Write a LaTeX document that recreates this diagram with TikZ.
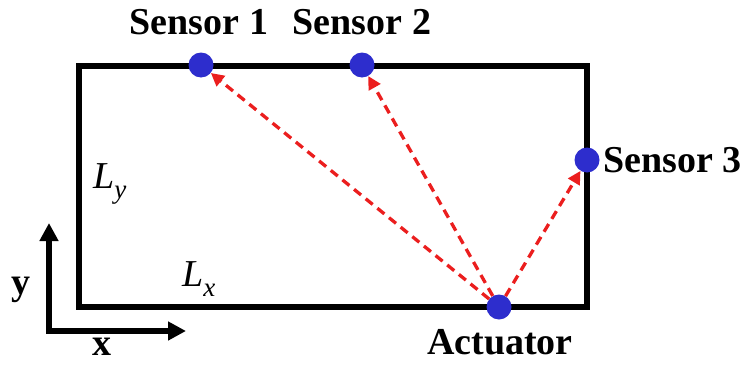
\documentclass[tikz,border=0pt]{standalone}
\usepackage{fontspec}
\setmainfont{Liberation Serif}
\usetikzlibrary{arrows.meta}
\definecolor{dotblue}{RGB}{45,45,205}
\definecolor{arrred}{RGB}{235,30,30}
\tikzset{
  sensordot/.style={circle,fill=dotblue,minimum size=25pt,inner sep=0pt},
  lbl/.style={font=\fontsize{38}{38}\selectfont\bfseries,inner sep=0pt},
  dimlbl/.style={font=\fontsize{38}{38}\selectfont\itshape,inner sep=0pt},
  wave/.style={arrred,line width=3.3pt,dash pattern=on 9pt off 6pt,-{Triangle[length=13pt,width=13pt]}},
  axis/.style={line width=6pt,-{Triangle[length=18pt,width=18pt]}},
}
\begin{document}
\begin{tikzpicture}[x=1pt,y=-1pt]
\useasboundingbox (0,0) rectangle (744,364);
\draw[line width=6.5pt] (79,66) rectangle (587,307);
\node[sensordot] (s1) at (201,65) {};
\node[sensordot] (s2) at (362,65) {};
\node[sensordot] (s3) at (587,160) {};
\node[sensordot] (act) at (499,307) {};
\node[lbl] (l1) at (199,22) {Sensor 1};
\node[lbl] (l2) at (362,22) {Sensor 2};
\node[lbl,anchor=west] (l3) at (603,160) {Sensor 3};
\node[lbl] (la) at (500,342) {Actuator};
\node[dimlbl,anchor=west] (ly) at (93,184) {L\raisebox{-0.28em}{\fontsize{27}{27}\selectfont y}};
\node[dimlbl,anchor=west] (lx) at (182,279) {L\raisebox{-0.28em}{\fontsize{27}{27}\selectfont x}};
\draw[wave] (act) -- (s1);
\draw[wave] (act) -- (s2);
\draw[wave] (act) -- (s3);
\coordinate (o) at (49,331);
\coordinate (ytip) at (49,223);
\coordinate (xtip) at (186,331);
\draw[axis] ([yshift=3pt]o) -- (ytip);
\draw[axis] ([xshift=-3pt]o) -- (xtip);
\node[lbl] (ylab) at (21,290) {y};
\node[lbl] (xlab) at (102,347) {x};
\end{tikzpicture}
\end{document}
